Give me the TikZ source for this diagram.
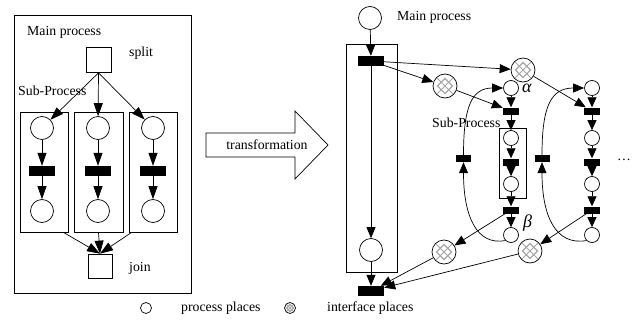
\documentclass[tikz,border=0pt]{standalone}
\usepackage{fontspec}
\setmainfont{Liberation Serif}
\usetikzlibrary{arrows.meta,calc}
\begin{document}
\begin{tikzpicture}[x=1pt,y=-1pt,
 every node/.style={font=\fontsize{13.8}{16}\selectfont},
 ln/.style={line width=0.7pt},
 arr/.style={ln,-{Triangle[length=13pt,width=9pt]}},
 marr/.style={ln,-{Triangle[length=11pt,width=9pt]}},
 sarr/.style={ln,-{Triangle[length=10pt,width=9pt]}},
 place/.style={circle,draw,ln,minimum size=23pt,inner sep=0pt},
 splace/.style={circle,draw,ln,minimum size=15pt,inner sep=0pt},
 bar/.style={rectangle,fill=black,minimum width=26pt,minimum height=10pt,inner sep=0pt},
 sbar/.style={rectangle,fill=black,minimum width=16pt,minimum height=7pt,inner sep=0pt},
 sq/.style={rectangle,draw,ln,minimum size=24pt,inner sep=0pt},
 box/.style={rectangle,draw,ln,inner sep=0pt},
 lbl/.style={anchor=west,inner sep=0pt},
 glbl/.style={anchor=west,inner sep=0pt,font=\fontsize{18}{20}\selectfont\itshape},
 iface/.style={circle,draw,ln,minimum size=#1,inner sep=0pt,
  path picture={
   \draw[gray!70,line width=1.2pt]
     ($(path picture bounding box.center)!0.62!(path picture bounding box.north)$) --
     ($(path picture bounding box.center)!0.62!(path picture bounding box.east)$) --
     ($(path picture bounding box.center)!0.62!(path picture bounding box.south)$) --
     ($(path picture bounding box.center)!0.62!(path picture bounding box.west)$) -- cycle;
   \draw[gray!70,line width=0.9pt]
     (path picture bounding box.south west) -- (path picture bounding box.north east)
     (path picture bounding box.north west) -- (path picture bounding box.south east);
  }},
]
\useasboundingbox (0,0) rectangle (637,321);

% ---------- left panel ----------
\node[box,minimum width=177pt,minimum height=278pt] (L) at (102.5,154) {};
\node[lbl] (lmain) at (27,32) {Main process};
\node[sq,minimum size=25pt] (split) at (98.5,60) {};
\node[lbl] (lsplit) at (129,53) {split};
\node[lbl] (lsub) at (18,91) {Sub-Process};
\node[box,minimum width=48pt,minimum height=120pt] (b1) at (44,172) {};
\node[box,minimum width=49pt,minimum height=120pt] (b2) at (98.5,172) {};
\node[box,minimum width=48pt,minimum height=120pt] (b3) at (153,172) {};
\foreach \i/\x in {1/42,2/98,3/153}{
  \node[place] (a\i) at (\x,128) {};
  \node[bar] (t\i) at (\x,171) {};
  \node[place] (c\i) at (\x,211) {};
  \draw[arr] (split.south) -- (a\i);
  \draw[arr] (a\i) -- (t\i);
  \draw[arr] (t\i) -- (c\i);
}
\node[sq] (join) at (100,266) {};
\node[lbl] (ljoin) at (129,268) {join};
\coordinate (j1) at ($(b1.south east)+(-5,0)$);
\coordinate (j3) at ($(b3.south west)+(3,0)$);
\draw[arr] (j1) -- (join.north);
\draw[arr] (b2.south) -- (join.north);
\draw[arr] (j3) -- (join.north);

% ---------- transformation arrow ----------
\draw[ln] (206,133) -- (295,133) -- (295,111) -- (328,145) -- (295,179) -- (295,157) -- (206,157) -- cycle;
\node (ttext) at (267,145) {transformation};

% ---------- right panel ----------
\node[place] (p0) at (370,18) {};
\node[lbl] (rmain) at (397,17) {Main process};
\node[box,minimum width=51pt,minimum height=228pt] (M) at (371.5,158) {};
\node[bar] (T0) at (371,61) {};
\node[place] (p1) at (371,250) {};
\node[bar] (T1) at (371,291) {};
\draw[marr] (p0) -- (T0);
\draw[marr] (T0) -- (p1);
\draw[marr] (p1) -- (T1);

\node[iface=24pt] (I1) at (445,86) {};
\node[iface=24pt] (I2) at (523,70) {};
\node[iface=24pt] (I3) at (444,252) {};
\node[iface=24pt] (I4) at (530,251) {};

\node[box,minimum width=27pt,minimum height=70pt] (SB) at (512.5,163) {};
\node[lbl] (rsub) at (432,123) {Sub-Process};

\foreach \c/\x in {1/511,2/592}{
  \node[splace] (q\c1) at (\x,88) {};
  \node[sbar] (s\c1) at (\x,111) {};
  \node[splace] (q\c2) at (\x,138) {};
  \node[sbar] (s\c2) at (\x,162) {};
  \node[splace] (q\c3) at (\x,184) {};
  \node[sbar] (s\c3) at (\x,210) {};
  \node[splace] (q\c4) at (\x,235) {};
  \draw[sarr] (q\c1) -- (s\c1);
  \draw[sarr] (s\c1) -- (q\c2);
  \draw[sarr] (q\c2) -- (s\c2);
  \draw[sarr] (s\c2) -- (q\c3);
  \draw[sarr] (q\c3) -- (s\c3);
  \draw[sarr] (s\c3) -- (q\c4);
}
\node[sbar,minimum width=15pt] (fb1) at (463.5,158.5) {};
\node[sbar,minimum width=15pt] (fb2) at (542,158.5) {};
\node[glbl] (alpha) at (522,88) {α};
\node[glbl] (beta) at (523,223) {β};
\node[lbl] (dots) at (617,160) {\ldots};

\draw[marr] (T0) -- (I1);
\draw[marr] (T0) -- (I2);
\draw[marr] (I1) -- (s11);
\draw[marr] (I2) -- (s21);
\draw[marr] (s13) -- (I3);
\draw[marr] (s23) -- (I4);
\draw[marr] (I3) -- (T1);
\draw[marr] (I4) -- (T1);

\draw[marr] (q14.south west) .. controls (476,246) and (463.5,215) .. (fb1.south);
\draw[marr] (fb1.north) .. controls (463.5,106) and (472,88) .. (q11.west);
\draw[marr] (q24.south west) .. controls (555,246) and (542,215) .. (fb2.south);
\draw[marr] (fb2.north) .. controls (542,106) and (551,88) .. (q21.west);

% ---------- legend ----------
\node[circle,draw,ln,minimum size=11pt,inner sep=0pt] (lg1) at (146,308) {};
\node[lbl] (lgt1) at (181,308) {process places};
\node[iface=11pt] (lg2) at (290,308) {};
\node[lbl] (lgt2) at (327,308) {interface places};
\end{tikzpicture}
\end{document}
